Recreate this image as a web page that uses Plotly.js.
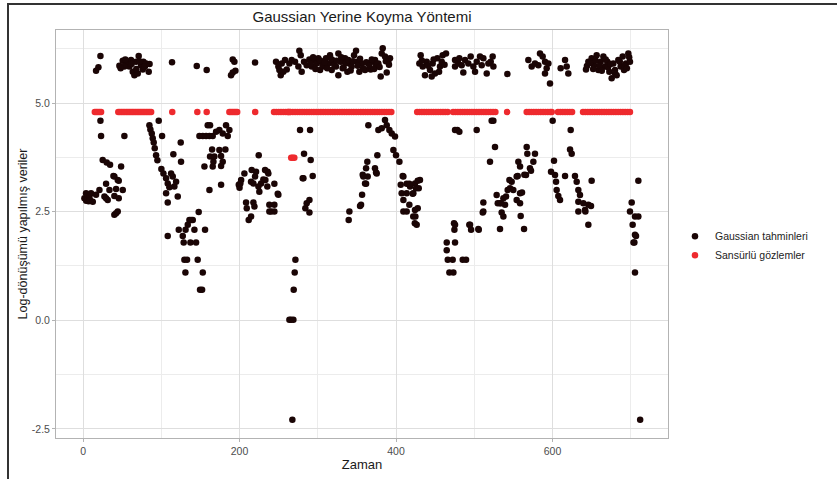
<!DOCTYPE html>
<html>
<head>
<meta charset="utf-8">
<script src="https://cdn.plot.ly/plotly-3.0.1.min.js"></script>
<style>
  html, body { margin: 0; padding: 0; background: #ffffff; }
  #wrap { position: relative; width: 837px; height: 479px; overflow: hidden; }
  #chart { position: absolute; left: 0; top: 0; width: 837px; height: 479px; }
  #frame { position: absolute; left: 7px; top: 3px; width: 840px; height: 490px;
           border-left: 2px solid #333; border-top: 2px solid #333; pointer-events: none; }
</style>
</head>
<body>
<div id="wrap">
  <div id="chart"></div>
  <div id="frame"></div>
</div>
<script>
// ---------------- DATA ----------------
const chartTitle = "Gaussian Yerine Koyma Yöntemi";
const xTitle = "Zaman";
const yTitle = "Log-dönüşümü yapılmış veriler";
const seriesNames = ["Gaussian tahminleri", "Sansürlü gözlemler"];
const xTickVals = [0, 200, 400, 600];
const yTickVals = [-2.5, 0.0, 2.5, 5.0];

// Gaussian estimates (observed values + imputed values for censored points)
const gaussX = [
  // early low cluster
  1.7,3.8,4,6,7,8.1,9,10.2,12.4,16.6,20.9,29.4,25.1,30.2,34.5,48.6,40,44.3,33.7,42.2,50.7,27.3,31.5,40,45.6,42.2,40,44.3,38.8,45.6,29.4,22.2,23,52.8,
  // early imputed (top)
  22.2,16.6,19.6,46.4,50.7,55,59.2,63.5,67.7,71.1,74.1,77.1,80.5,83.9,65.6,69.9,61.3,76.3,57.1,52.8,113.7,145.3,158,191.3,193.4,194.7,191.3,189.1,219.8,
  48,54,62,68,72,79,85,
  // 85-125
  84.8,86,87.8,89,90.3,96.7,101,91.6,93.3,95,100.1,102.7,106.1,108.2,110.3,116.7,114.6,118.9,121,106.1,108.2,124.8,115.4,125.2,112.5,108.2,122.3,
  // 125-190
  127.4,133.8,135.9,140.2,142.3,147.8,155.9,128.6,137.2,144.4,129.5,132.9,146.5,130.8,153,149.5,152.1,138,131,
  159.3,162.3,148.7,153,157.2,161.5,165.7,170,174.2,178.5,182.7,187,184.9,164.9,174.2,181.9,162.3,167.8,176.4,166.6,178.5,155.1,165.7,176.4,161.5,176.4,
  // 195-250
  199,202,206.2,214.7,221.1,225.3,227.5,233,235.9,244.5,248.8,208.3,217.7,209.2,219,214.7,211.7,238.1,244.5,240.3,244.5,238.1,224.5,215.5,219.8,217.7,224.1,232.6,236.8,230.4,235.5,249.6,200,201,
  246.6,249.6,252.6,253.9,258.1,260.3,263.7,266.6,256,250.9,
  // 260-300
  280.7,293.5,289.3,285.8,284.1,289.3,277.3,290.1,282.4,290.9,281.6,
  271.4,270.5,269.2,263.7,265.8,268.8,267.5,
  // imputed 270-395
  270.9,276.4,278.2,275.2,279.4,282.4,285.8,289.2,292.2,295.2,298.6,300.7,302.9,305,308,310.5,313.5,315.6,317.8,319.9,323.3,326.3,326.3,329.3,331.8,334.8,337.8,340.3,343.3,346.3,348.9,350.6,353.1,356.1,364.6,367.6,370.9,374.4,377.4,380.4,383,381.7,385.9,388.1,390.2,392.3,373.1,360.4,
  291,294,297,303,306,309,312,318,321,324,330,333,336,339,342,345,351,354,358,362,366,369,372,376,379,387,391,
  // 335-430
  340.4,339.5,355.3,356.6,357.4,361.7,363.8,374.5,364.6,377.4,381.7,385.9,388.1,391.5,394.5,398.7,376.1,396.6,400,404.3,363.3,361.7,358.2,373.1,375.3,360.4,354,
  409.4,406,413.6,417.9,424.2,430.6,407.2,413.6,422.1,409.4,417,424.2,409.4,413.6,422,424,426.4,408.5,417,427.7,421.3,425.6,429,427.7,424.7,
  // imputed 428-480
  431.5,429.8,434.1,437,439.2,443.4,446.8,449.8,452.8,456.2,459.6,463.9,458.4,445.6,475.4,475.4,479.6,
  433,441,448,455,462,
  // 460-505
  474.1,474.6,464.8,475.4,464.8,466.1,472.4,485.2,489.5,468.2,473.3,493.7,495.9,505.7,475.4,478.4,480.9,503.1,475.4,494.6,
  // imputed 480-530
  480.9,483.9,486,488.2,492.4,495.4,498.8,501,503.1,507.3,509.5,511.6,515.9,518,521,523.5,524.4,542.3,
  // 505-575
  522.2,524.4,526.5,520.1,567,567.8,577.6,575.5,556.3,558.5,571.2,566.1,554.2,547.8,545.7,549.9,558.5,528.6,537.2,532.9,539.3,554.2,558.5,511.6,511.6,535,537.2,559.3,505.2,532.9,563.6,530,534.2,540.6,542.7,544.9,555.5,561,564,572.5,510.8,
  // imputed 565-625
  569.1,573.4,577.6,581.9,584,587.4,590.4,592.5,590.4,594.7,596.8,610.4,616,618.1,620.2,
  // 595-650
  600.2,623.2,622.4,624.5,601.9,603.2,604.5,605.3,607.4,609.6,616,628.7,630.9,633,635.1,633,639.4,645.8,633,641.5,650,645.8,598.1,642,649.2,
  // imputed 640-700
  642.8,645.8,650,653,656.4,658.6,661.5,665,667.1,670.1,672.6,675.6,677.7,679.9,682,684.1,687.1,689.7,691.4,693.9,696.9,699,
  644,648,652,655,660,663,668,671,674,680,686,692,695,698,
  // end
  709.7,701.2,699,705.4,709.7,702.4,705.4,704.6,706.7,703.5,705.4,712
];
const gaussY = [
  2.81,2.92,2.75,2.77,2.74,2.85,2.76,2.92,2.73,2.89,3.0,3.14,3.69,3.63,3.58,3.54,3.31,3.23,3.0,3.02,3.0,2.85,2.77,2.86,2.81,2.46,2.43,2.5,3.32,3.21,2.81,4.59,4.24,4.24,
  6.08,5.74,5.82,5.86,5.97,5.91,5.84,5.72,5.95,6.08,5.87,5.95,5.91,5.72,5.64,5.68,5.99,5.77,5.95,5.84,5.94,5.85,5.76,6.0,5.95,5.74,5.70,5.64,5.93,
  5.8,6.0,5.9,5.78,5.96,5.84,5.9,
  4.49,4.39,4.30,4.19,4.09,4.59,4.24,3.96,3.8,3.68,3.48,3.38,3.27,3.15,3.06,3.08,3.31,3.19,2.85,2.92,2.71,4.09,3.82,3.65,3.38,1.94,2.08,
  1.94,2.2,2.31,2.31,2.08,2.49,2.08,1.79,1.79,1.79,1.39,1.39,1.39,1.1,1.1,0.7,0.7,2.31,2.08,
  4.49,4.49,4.24,4.24,4.24,4.24,4.24,4.34,4.38,4.3,4.49,4.38,4.24,3.93,3.92,3.93,3.77,3.77,3.78,3.65,3.65,3.54,3.54,3.55,3.0,3.12,
  3.12,3.23,3.38,3.19,3.42,2.96,3.15,3.23,3.42,3.14,2.91,2.71,2.71,2.58,2.62,2.39,2.31,2.66,2.66,2.5,2.5,2.5,3.8,3.46,3.31,3.15,3.08,3.46,3.38,3.24,3.08,2.89,3.05,3.15,
  5.95,5.84,5.64,5.91,5.99,5.77,5.91,5.99,5.72,5.76,
  3.27,3.32,2.77,2.69,2.58,2.48,4.38,4.38,3.83,3.69,3.27,
  1.39,1.1,0.7,0.01,0.01,0.01,-2.29,
  5.95,6.20,6.10,5.84,5.72,5.95,5.87,6.0,5.84,5.99,5.91,6.03,5.76,5.95,5.84,6.03,5.91,6.10,5.76,5.95,5.84,5.64,6.14,5.95,5.80,6.03,5.72,5.91,5.84,6.10,6.20,5.95,5.72,5.91,5.91,5.77,5.95,5.84,5.91,5.61,6.26,6.14,6.07,5.70,5.95,6.03,5.99,5.76,
  5.9,6.05,5.78,5.98,5.86,5.93,5.8,6.0,5.88,5.97,6.05,5.82,5.92,5.99,5.75,5.96,5.86,6.02,5.8,5.94,5.86,6.0,5.78,5.9,5.83,5.96,5.88,
  2.5,2.31,2.66,2.89,3.35,3.14,3.31,3.4,4.49,4.38,4.42,4.61,4.49,4.38,4.3,4.23,3.8,3.92,3.8,3.65,3.65,3.5,3.31,3.5,3.38,3.15,2.63,
  3.31,3.12,3.14,3.08,3.15,3.23,2.92,2.92,2.92,2.77,2.66,2.54,2.5,2.5,2.39,2.23,2.2,3.32,3.14,3.21,2.91,3.04,3.04,2.58,2.39,
  6.10,5.91,5.84,5.64,5.95,5.76,5.91,5.68,6.03,5.84,6.10,6.14,5.95,5.61,5.99,5.84,5.91,
  5.98,5.86,6.0,5.72,5.88,
  2.23,2.08,1.79,1.79,1.61,1.39,1.39,1.39,1.39,1.1,1.1,2.2,2.08,2.08,4.38,4.38,4.34,4.38,2.2,2.2,
  6.03,5.87,5.70,5.99,5.91,6.07,5.84,5.72,5.95,6.07,5.87,6.03,5.68,5.91,5.95,6.07,5.84,5.67,
  4.59,4.59,3.99,3.65,3.99,3.83,3.83,3.65,3.65,3.54,3.5,3.34,3.31,3.19,3.04,3.0,2.92,2.88,2.81,2.69,2.66,2.77,2.69,2.71,2.5,2.48,2.39,2.4,2.1,2.1,2.1,2.69,2.69,2.85,3.0,3.23,3.32,2.94,3.35,3.44,2.48,
  5.99,5.84,5.91,5.87,6.14,6.07,5.95,5.80,5.68,5.91,5.45,5.80,5.99,5.84,5.68,
  4.59,4.38,3.93,3.83,3.67,3.34,3.19,3.0,2.86,2.77,3.32,3.32,3.19,3.0,2.88,2.73,2.69,2.66,2.5,2.54,3.21,2.2,3.42,2.5,2.63,
  5.77,5.95,6.03,5.87,6.10,5.76,5.95,6.07,5.84,5.95,5.72,5.57,5.91,5.76,5.64,5.99,5.84,6.07,5.76,5.91,6.14,5.95,
  5.85,5.92,5.78,5.98,5.86,5.74,6.0,5.82,5.9,5.68,5.95,5.86,5.8,6.05,
  3.21,2.71,2.5,2.39,2.39,2.2,1.97,1.79,1.94,1.79,1.1,-2.29
];

// Censored observations (detection limit level and a lower censored run)
const censX = [
  15,17,19,21,23,
  45,47,49,51,53,55,57,59,61,63,65,67,69,71,73,75,77,79,81,83,85,87,
  114,146,158,
  187,189,191,193,195,197,
  220,
  244,247,250,253,256,259,262,265,268,271,274,277,280,283,286,289,292,295,298,301,304,307,310,313,316,319,322,325,328,331,334,337,340,343,346,349,352,355,358,361,364,367,370,373,376,379,382,385,388,391,394,
  427,430,433,436,439,442,445,448,451,454,457,460,463,466,
  473,476,479,482,485,488,491,494,497,500,503,506,509,512,515,518,521,524,527,
  542,
  567,570,573,576,579,582,585,588,591,594,597,599,
  607,610,613,616,619,622,625,
  639,642,645,648,651,654,657,660,663,666,669,672,675,678,681,684,687,690,693,696,699,
  262,264,266,268,270
];
const censY = [
  4.79,4.79,4.79,4.79,4.79,
  4.79,4.79,4.79,4.79,4.79,4.79,4.79,4.79,4.79,4.79,4.79,4.79,4.79,4.79,4.79,4.79,4.79,4.79,4.79,4.79,4.79,4.79,
  4.79,4.79,4.79,
  4.79,4.79,4.79,4.79,4.79,4.79,
  4.79,
  4.79,4.79,4.79,4.79,4.79,4.79,4.79,4.79,4.79,4.79,4.79,4.79,4.79,4.79,4.79,4.79,4.79,4.79,4.79,4.79,4.79,4.79,4.79,4.79,4.79,4.79,4.79,4.79,4.79,4.79,4.79,4.79,4.79,4.79,4.79,4.79,4.79,4.79,4.79,4.79,4.79,4.79,4.79,4.79,4.79,4.79,4.79,4.79,4.79,4.79,4.79,4.79,4.79,
  4.79,4.79,4.79,4.79,4.79,4.79,4.79,4.79,4.79,4.79,4.79,4.79,4.79,4.79,
  4.79,4.79,4.79,4.79,4.79,4.79,4.79,4.79,4.79,4.79,4.79,4.79,4.79,4.79,4.79,4.79,4.79,4.79,4.79,
  4.79,
  4.79,4.79,4.79,4.79,4.79,4.79,4.79,4.79,4.79,4.79,4.79,4.79,
  4.79,4.79,4.79,4.79,4.79,4.79,4.79,
  4.79,4.79,4.79,4.79,4.79,4.79,4.79,4.79,4.79,4.79,4.79,4.79,4.79,4.79,4.79,4.79,4.79,4.79,4.79,4.79,4.79,
  3.74,3.74,3.74,3.74,3.74
];

// ---------------- CHART ----------------
const FONT = "Liberation Sans, Arial, Helvetica, sans-serif";

const traces = [
  {
    type: "scatter", mode: "markers", name: seriesNames[0],
    x: gaussX, y: gaussY,
    marker: { color: "#1a0505", size: 6.5, line: { width: 0 } },
    hoverinfo: "x+y"
  },
  {
    type: "scatter", mode: "markers", name: seriesNames[1],
    x: censX, y: censY,
    marker: { color: "#ee2a2e", size: 6.5, line: { width: 0 } },
    hoverinfo: "x+y"
  }
];

const gridMajor = "#dedede";
const gridMinor = "#ececec";
const borderCol = "#b3b3b3";

const layout = {
  width: 837, height: 479,
  paper_bgcolor: "#ffffff", plot_bgcolor: "#ffffff",
  margin: { l: 56, r: 169, t: 30, b: 41, pad: 0 },
  font: { family: FONT, color: "#222222" },
  title: {
    text: chartTitle,
    font: { family: FONT, size: 15, color: "#1a1a1a" },
    x: 0.5, xref: "paper", xanchor: "center",
    y: 1 - 17 / 479, yref: "container", yanchor: "middle"
  },
  xaxis: {
    range: [-34.6, 747.6],
    tickvals: xTickVals,
    ticktext: xTickVals.map(String),
    tickfont: { family: FONT, size: 10.5, color: "#4d4d4d" },
    ticks: "outside", ticklen: 3, tickcolor: borderCol, tickwidth: 1,
    showgrid: true, gridcolor: gridMajor, gridwidth: 1,
    minor: { dtick: 100, tick0: 0, showgrid: true, gridcolor: gridMinor, gridwidth: 1, ticks: "" },
    zeroline: false,
    showline: true, linecolor: borderCol, linewidth: 1, mirror: true,
    title: { text: xTitle, font: { family: FONT, size: 13, color: "#1a1a1a" }, standoff: 4 }
  },
  yaxis: {
    range: [-2.71, 6.68],
    tickvals: yTickVals,
    ticktext: yTickVals.map(v => v.toFixed(1)),
    tickfont: { family: FONT, size: 10.5, color: "#4d4d4d" },
    ticks: "outside", ticklen: 3, tickcolor: borderCol, tickwidth: 1,
    showgrid: true, gridcolor: gridMajor, gridwidth: 1,
    minor: { dtick: 1.25, tick0: 0, showgrid: true, gridcolor: gridMinor, gridwidth: 1, ticks: "" },
    zeroline: false,
    showline: true, linecolor: borderCol, linewidth: 1, mirror: true,
    title: { text: yTitle, font: { family: FONT, size: 12.5, color: "#1a1a1a" }, standoff: 1 }
  },
  showlegend: true,
  legend: {
    x: 1.0114, xanchor: "left", xref: "paper",
    y: 0.53, yanchor: "top", yref: "paper",
    font: { family: FONT, size: 10.5, color: "#222222" },
    bgcolor: "rgba(0,0,0,0)", borderwidth: 0,
    itemwidth: 30, tracegroupgap: 0
  }
};

Plotly.newPlot("chart", traces, layout, { displayModeBar: false, staticPlot: true });
</script>
</body>
</html>
